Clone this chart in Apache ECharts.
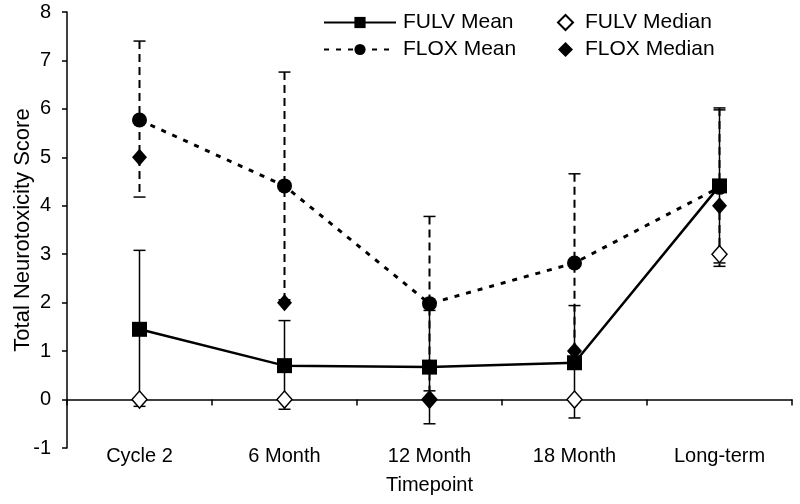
<!DOCTYPE html>
<html>
<head>
<meta charset="utf-8">
<script src="https://cdn.jsdelivr.net/npm/echarts@6/dist/echarts.min.js"></script>
<style>
  html, body { margin: 0; padding: 0; background: #fff; }
  #chart { width: 800px; height: 504px; }
</style>
</head>
<body>
<div id="chart"></div>
<script>
const categories = ['Cycle 2', '6 Month', '12 Month', '18 Month', 'Long-term']

const fulvMean = [1.45, 0.70, 0.67, 0.76, 4.41]
const fulvLow = [-0.14, -0.20, -0.50, -0.38, 2.82]
const fulvHigh = [3.08, 1.63, 1.84, 1.94, 5.98]

const floxMean = [5.77, 4.41, 1.98, 2.82, 4.38]
const floxLow = [4.18, 2.06, 0.18, 0.98, 2.75]
const floxHigh = [7.40, 6.76, 3.78, 4.66, 6.02]

const fulvMedian = [0, 0, 0, 0, 3]
const floxMedian = [5, 2, 0, 1, 4]

const font = "'Liberation Sans', Arial, sans-serif"

// error bar: vertical line + caps
function errorBar (dash, width) {
  return function (params, api) {
    const x = api.value(0)
    const lo = api.coord([x, api.value(1)])
    const hi = api.coord([x, api.value(2)])
    const cap = 6
    const style = { stroke: '#000', lineWidth: width, lineDash: dash }
    const capStyle = { stroke: '#000', lineWidth: 1.5 }
    return {
      type: 'group',
      children: [
        { type: 'line', shape: { x1: hi[0], y1: hi[1], x2: lo[0], y2: lo[1] }, style: style },
        { type: 'line', shape: { x1: hi[0] - cap, y1: hi[1], x2: hi[0] + cap, y2: hi[1] }, style: capStyle },
        { type: 'line', shape: { x1: lo[0] - cap, y1: lo[1], x2: lo[0] + cap, y2: lo[1] }, style: capStyle }
      ]
    }
  }
}

const chart = echarts.init(document.getElementById('chart'))
const option = {
  animation: false,
  backgroundColor: '#fff',
  textStyle: { fontFamily: font, color: '#000' },
  grid: { left: 67, right: 8, top: 12, bottom: 56, containLabel: false, outerBoundsMode: 'none' },
  legend: [{
    orient: 'vertical',
    left: 323,
    top: 12,
    padding: 0,
    itemGap: 6,
    itemWidth: 72,
    itemHeight: 14,
    textStyle: { fontFamily: font, fontSize: 21, color: '#000', padding: [0, 0, 0, 2] },
    data: ['FULV Mean', 'FLOX Mean']
  }, {
    orient: 'vertical',
    left: 557,
    top: 12,
    padding: 0,
    itemGap: 6,
    itemWidth: 15,
    itemHeight: 15,
    textStyle: { fontFamily: font, fontSize: 21, color: '#000', padding: [0, 0, 0, 7] },
    data: ['FULV Median', 'FLOX Median']
  }],
  xAxis: [{
    type: 'category',
    data: categories,
    position: 'bottom',
    axisLine: { show: false, onZero: false },
    axisTick: { show: false },
    axisLabel: { fontFamily: font, fontSize: 20, color: '#000', margin: -2 },
    name: 'Timepoint',
    nameLocation: 'middle',
    nameGap: 27,
    nameMoveOverlap: false,
    nameTextStyle: { fontFamily: font, fontSize: 20, color: '#000' }
  }, {
    type: 'category',
    data: categories,
    position: 'bottom',
    axisLine: { show: true, onZero: true, lineStyle: { color: '#000', width: 1.5 } },
    axisTick: { show: true, inside: false, length: 6, lineStyle: { color: '#000', width: 1.5 } },
    axisLabel: { show: false }
  }],
  yAxis: {
    type: 'value',
    min: -1,
    max: 8,
    interval: 1,
    splitLine: { show: false },
    axisLine: { show: true, lineStyle: { color: '#000', width: 1.5 } },
    axisTick: { show: true, length: 5, lineStyle: { color: '#000', width: 1.5 } },
    axisLabel: { fontFamily: font, fontSize: 20, color: '#000', margin: 16 },
    name: 'Total Neurotoxicity Score',
    nameLocation: 'middle',
    nameGap: 33,
    nameMoveOverlap: false,
    nameTextStyle: { fontFamily: font, fontSize: 22, color: '#000' }
  },
  series: [{
    name: 'FLOX SD',
    type: 'custom',
    renderItem: errorBar([8, 5], 2),
    data: categories.map((c, i) => [i, floxLow[i], floxHigh[i]]),
    z: 1
  }, {
    name: 'FULV SD',
    type: 'custom',
    renderItem: errorBar(null, 1.5),
    data: categories.map((c, i) => [i, fulvLow[i], fulvHigh[i]]),
    z: 1
  }, {
    name: 'FLOX Mean',
    type: 'line',
    data: floxMean,
    symbol: 'circle',
    symbolSize: 15,
    itemStyle: { color: '#000' },
    lineStyle: { color: '#000', width: 3, type: [5, 7] },
    z: 2
  }, {
    name: 'FULV Mean',
    type: 'line',
    data: fulvMean,
    symbol: 'rect',
    symbolSize: 15,
    itemStyle: { color: '#000' },
    lineStyle: { color: '#000', width: 2.5 },
    z: 3
  }, {
    name: 'FULV Median',
    type: 'scatter',
    data: fulvMedian,
    symbol: 'diamond',
    symbolSize: [15, 17],
    itemStyle: { color: '#fff', borderColor: '#000', borderWidth: 1.5, opacity: 1 },
    z: 4
  }, {
    name: 'FLOX Median',
    type: 'scatter',
    data: floxMedian,
    symbol: 'diamond',
    symbolSize: [15, 17],
    itemStyle: { color: '#000', opacity: 1 },
    z: 5
  }]
}
chart.setOption(option)
</script>
</body>
</html>
